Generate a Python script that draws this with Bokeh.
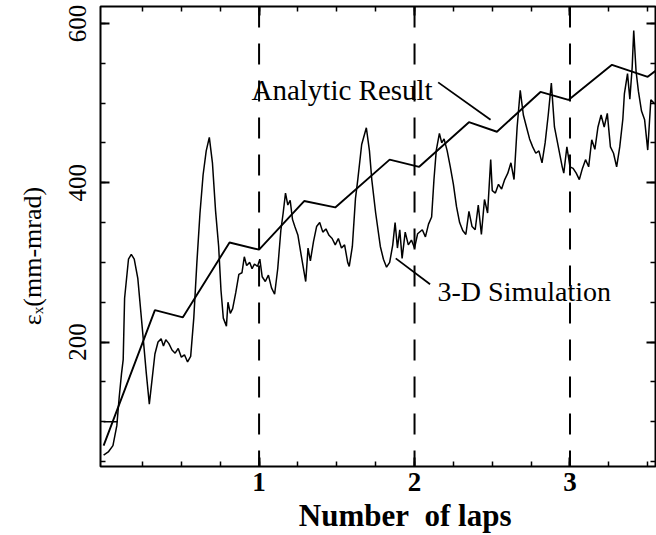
from bokeh.plotting import figure
from bokeh.models import FixedTicker, LinearAxis, Label, Span, Range1d, CustomJSTickFormatter
from bokeh.embed import file_html
from bokeh.resources import INLINE

# ---- data ----
x_major = [1, 2, 3]
x_minor = [0.25 * i for i in range(1, 15)]
y_major = [200, 400, 600]
y_minor = list(range(50, 620, 50))
lap_markers = [1, 2, 3]

analytic_laps = [0.0, 0.33, 0.51, 0.81, 1.00, 1.29, 1.49, 1.84, 2.03, 2.35, 2.53, 2.81, 2.99, 3.27, 3.50, 3.58]
analytic_emit = [70, 240, 231, 325, 316, 377, 369, 429, 420, 476, 464, 514, 504, 548, 533, 545]

box_laps = [0.0, 0.09]
box_emit = [100, 100]

sim_laps = [0.00, 0.03, 0.06, 0.085, 0.10, 0.115, 0.126, 0.135, 0.16, 0.178, 0.197, 0.22, 0.25, 0.275, 0.294,
            0.31, 0.33, 0.35, 0.37, 0.385, 0.40, 0.42, 0.44, 0.46, 0.48, 0.50, 0.52, 0.54, 0.56, 0.58,
            0.60, 0.62, 0.64, 0.66, 0.68, 0.70, 0.72, 0.74, 0.755, 0.77, 0.79, 0.80, 0.815, 0.83, 0.85,
            0.87, 0.89, 0.905, 0.92, 0.94, 0.955, 0.97, 0.99, 1.005, 1.02, 1.04, 1.06, 1.08, 1.10, 1.12,
            1.14, 1.155, 1.17, 1.185, 1.20, 1.215, 1.23, 1.25, 1.27, 1.30, 1.315, 1.33, 1.35, 1.37, 1.39,
            1.41, 1.43, 1.45, 1.47, 1.49, 1.51, 1.53, 1.55, 1.57, 1.58, 1.60, 1.62, 1.635, 1.66, 1.69,
            1.71, 1.725, 1.75, 1.78, 1.80, 1.82, 1.84, 1.86, 1.875, 1.89, 1.905, 1.92, 1.94, 1.96, 1.98,
            2.00, 2.02, 2.05, 2.07, 2.09, 2.11, 2.125, 2.14, 2.16, 2.175, 2.19, 2.21, 2.23, 2.25, 2.27,
            2.29, 2.31, 2.33, 2.35, 2.37, 2.39, 2.41, 2.43, 2.45, 2.47, 2.49, 2.50, 2.52, 2.54, 2.56,
            2.58, 2.60, 2.62, 2.64, 2.66, 2.68, 2.70, 2.72, 2.74, 2.76, 2.78, 2.80, 2.82, 2.84, 2.86,
            2.88, 2.90, 2.92, 2.95, 2.96, 2.98, 3.00, 3.02, 3.04, 3.06, 3.08, 3.10, 3.12, 3.14, 3.16,
            3.18, 3.20, 3.22, 3.24, 3.26, 3.28, 3.30, 3.32, 3.34, 3.35, 3.37, 3.385, 3.40, 3.41, 3.425,
            3.44, 3.46, 3.48, 3.50, 3.52, 3.54, 3.56, 3.58]
sim_emit = [58, 62, 70, 95, 130, 160, 178, 255, 304, 310, 304, 280, 215, 160, 122,
            150, 185, 200, 204, 195, 203, 198, 190, 186, 192, 181, 184, 175, 182, 230,
            300, 362, 410, 440, 457, 425, 365, 320, 265, 230, 220, 250, 236, 242, 262,
            285, 287, 307, 296, 300, 292, 298, 295, 304, 282, 276, 284, 268, 260, 292,
            340, 362, 387, 372, 378, 354, 345, 334, 310, 276, 318, 302, 326, 345, 350,
            338, 342, 334, 330, 322, 330, 318, 322, 300, 295, 320, 380, 404, 448, 469,
            440, 404, 362, 320, 304, 294, 300, 322, 350, 318, 341, 305, 338, 322, 328,
            318, 336, 341, 332, 348, 357, 404, 441, 462, 450, 455, 440, 420, 398, 370,
            350, 340, 335, 364, 345, 341, 372, 335, 379, 362, 429, 390, 387, 398, 392,
            404, 412, 425, 404, 470, 516, 485, 470, 455, 445, 437, 440, 425, 450, 485,
            525, 470, 450, 420, 412, 445, 420, 418, 412, 404, 418, 429, 420, 454, 442,
            470, 485, 470, 487, 445, 437, 420, 445, 480, 512, 537, 505, 545, 591, 540,
            515, 490, 479, 441, 504, 500, 498, 495]

SERIF = "Liberation Serif"
NB = "\u00a0"

p = figure(width=656, height=535, x_range=Range1d(-0.02, 3.55), y_range=Range1d(43.75, 621.25),
           output_backend="svg", toolbar_location=None,
           min_border_left=100, min_border_right=1, min_border_top=6, min_border_bottom=67)
p.xgrid.visible = False
p.ygrid.visible = False
p.outline_line_color = "black"
p.outline_line_width = 2
p.background_fill_color = "white"
p.border_fill_color = "white"

xt = FixedTicker(ticks=x_major, minor_ticks=x_minor)
yt = FixedTicker(ticks=y_major, minor_ticks=y_minor)

def style_axis(ax):
    ax.axis_line_color = None
    ax.major_tick_in = 9
    ax.major_tick_out = 0
    ax.minor_tick_in = 5
    ax.minor_tick_out = 0
    ax.major_tick_line_width = 2
    ax.minor_tick_line_width = 1.5

xa = p.xaxis[0]
xa.ticker = xt
style_axis(xa)
xa.major_label_text_font = SERIF
xa.major_label_text_font_style = "bold"
xa.major_label_text_font_size = "27px"
xa.major_label_text_color = "black"
xa.major_label_standoff = 6
xa.axis_label = NB * 7 + "Number" + NB + " of laps"
xa.axis_label_text_font = SERIF
xa.axis_label_text_font_style = "bold"
xa.axis_label_text_font_size = "31px"
xa.axis_label_text_color = "black"
xa.axis_label_standoff = 4

ya = p.yaxis[0]
ya.ticker = yt
style_axis(ya)
ya.major_label_text_font = SERIF
ya.major_label_text_font_size = "25px"
ya.major_label_text_color = "black"
ya.major_label_orientation = "vertical"
ya.major_label_standoff = 14
ya.axis_label = "\u03b5\u2093(mm-mrad)" + NB * 6
ya.axis_label_text_font = SERIF
ya.axis_label_text_font_style = "normal"
ya.axis_label_text_font_size = "26px"
ya.axis_label_text_color = "black"
ya.axis_label_standoff = 20

blank = CustomJSTickFormatter(code="return ''")
top = LinearAxis(ticker=xt, formatter=blank, major_label_standoff=0)
style_axis(top)
p.add_layout(top, "above")
right = LinearAxis(ticker=yt, formatter=blank, major_label_standoff=0)
style_axis(right)
p.add_layout(right, "right")

for lm in lap_markers:
    p.add_layout(Span(location=lm, dimension="height", line_color="black",
                      line_width=2, line_dash="21 16"))

p.line(analytic_laps, analytic_emit, line_color="black", line_width=1.9)
p.line(sim_laps, sim_emit, line_color="black", line_width=1.5)
p.line(box_laps, box_emit, line_color="black", line_width=1.5)

# leader lines
p.line([2.152, 2.489], [526, 479], line_color="black", line_width=1.8)
p.line([1.879, 2.10], [305, 272.5], line_color="black", line_width=1.8)

p.add_layout(Label(x=0.951, y=516, text="Analytic Result", text_font=SERIF,
                   text_font_size="29px", text_color="black", text_baseline="alphabetic"))
p.add_layout(Label(x=2.148, y=263, text="3-D Simulation", text_font=SERIF,
                   text_font_size="28px", text_color="black", text_baseline="alphabetic"))

open("out.html", "w").write(file_html(p, INLINE))
